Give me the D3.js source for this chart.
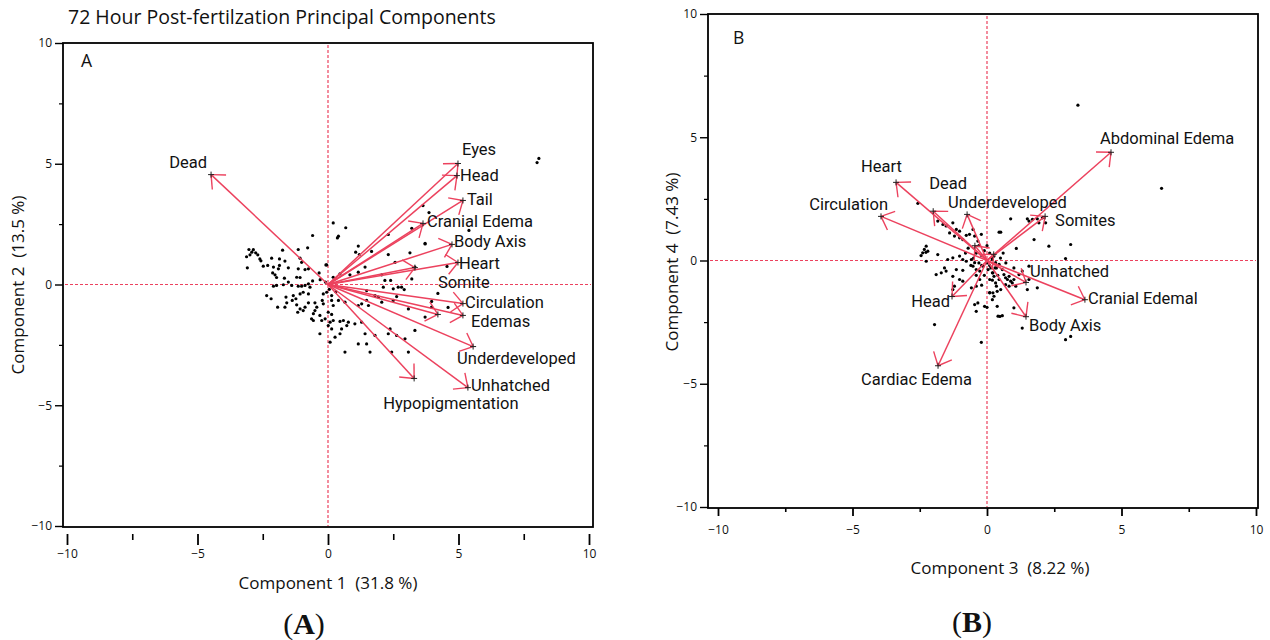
<!DOCTYPE html>
<html><head><meta charset="utf-8">
<script src="https://cdn.jsdelivr.net/npm/d3@7"></script>
<style>
body{margin:0;background:#fff}
text{font-family:"Open Sans","Noto Sans",sans-serif;fill:#111}
text.lbl{font-family:Roboto,"Open Sans",sans-serif}
</style>
</head><body>
<svg id="chart" width="1270" height="640"></svg>
<script>
// ---------- data ----------
const majorTicks = [-10, -5, 0, 5, 10];
const minorTicks = [-7.5, -2.5, 2.5, 7.5];

const titleA = "72 Hour Post-fertilzation Principal Components";
const xTitleA = "Component 1  (31.8 %)";
const yTitleA = "Component 2  (13.5 %)";
const xTitleB = "Component 3  (8.22 %)";
const yTitleB = "Component 4  (7.43 %)";

const loadNamesA = ["Dead","Eyes","Head","Tail","Cranial Edema","Body Axis","Heart","Somite","Circulation","Edemas","","Underdeveloped","Unhatched","Hypopigmentation"];
const loadXA = [-4.48, 4.98, 4.94, 5.17, 3.64, 4.75, 4.98, 3.33, 5.17, 5.17, 4.21, 5.56, 5.36, 3.30];
const loadYA = [ 4.55, 5.01, 4.51, 3.48, 2.53, 1.66, 0.91, 0.70, -0.79, -1.28, -1.24, -2.57, -4.27, -3.89];

const loadNamesB = ["Abdominal Edema","Heart","Dead","Underdeveloped","Circulation","Somites","Unhatched","Cranial Edemal","Body Axis","Head","Cardiac Edema","",""];
const loadXB = [4.61, -3.38, -2.00, -0.74, -3.94, 2.16, 1.45, 3.64, 1.45, -1.30, -1.82, -0.45, 0.25];
const loadYB = [4.39, 3.17, 2.00, 1.87, 1.79, 1.79, -0.89, -1.59, -2.28, -1.46, -4.27, 0.60, 0.25];

const scoresA = [
[-0.59,2.03],[-0.78,1.52],[-1.14,1.45],[-1.74,1.42],[-3.03,1.45],[-2.86,1.44],[-2.92,1.34],[-2.77,1.31],[-2.99,1.23],[-3.12,1.15],
[-2.69,1.23],[-2.61,1.06],[-2.57,0.98],[-2.16,1.09],[-1.86,1.06],[-1.65,0.97],[-2.31,0.79],[-2.48,0.76],[-3.09,0.69],[-2.09,0.72],
[-1.86,0.79],[-1.90,0.65],[-1.52,0.69],[-1.07,1.09],[-1.01,0.92],[-1.14,0.65],[-0.88,0.62],[-0.75,0.65],[-0.05,0.81],[-0.34,0.48],
[-2.12,0.48],[-2.03,0.40],[-1.97,0.29],[-1.67,0.26],[-1.20,0.30],[-1.07,0.29],[-0.59,0.15],[-0.75,0.03],[-1.52,0.10],[-1.39,-0.04],
[-1.71,-0.01],[-1.97,-0.04],[-2.09,-0.07],[-1.14,-0.07],[-1.01,-0.07],[-0.88,-0.04],[-0.69,-0.11],[-2.35,-0.46],[-2.18,-0.59],[-1.61,-0.52],
[-1.33,-0.46],[-1.07,-0.39],[-0.95,-0.32],[-0.75,-0.39],[-1.23,-0.59],[-1.37,-0.66],[-1.58,-0.76],[-1.65,-0.94],[-1.93,-0.94],[-1.20,-0.84],
[-1.07,-1.01],[-0.95,-1.08],[-0.88,-0.94],[-0.75,-0.76],[-0.50,-0.76],[-0.22,-0.66],[-0.18,-0.80],[-0.43,-0.94],[-0.50,-1.08],[-0.56,-1.21],
[-1.16,-1.15],[-0.63,-1.42],[-0.56,-1.49],[-0.31,-1.28],[-0.24,-1.49],[-0.11,-1.42],[0.01,-1.15],[-0.18,-0.39],[-0.05,-0.32],[0.14,-0.46],
[-0.31,-2.04],[0.14,-1.84],[0.08,-2.39],[0.08,-1.56],
[0.20,2.55],[0.68,2.35],[0.40,2.00],[0.36,1.93],[-0.08,0.81],[1.16,1.59],[1.06,1.34],[1.20,1.24],[1.67,1.37],[2.31,1.24],
[3.14,1.31],[3.72,1.68],[2.31,2.07],[3.21,2.33],[1.42,0.72],[1.16,0.51],[0.84,0.40],[0.46,0.44],[2.06,0.40],[2.18,0.17],
[2.40,0.17],[3.33,0.72],[2.57,0.92],[3.21,0.23],[2.82,-0.11],[2.50,-0.18],[2.69,-0.11],[2.92,-0.21],[2.12,-0.11],[1.48,-0.25],
[1.80,-0.46],[1.93,-0.52],[2.63,-0.50],[1.48,-0.66],[1.29,-0.80],[1.16,-0.87],[1.55,-0.87],[2.06,-0.73],[2.50,-0.66],[3.08,-1.01],
[3.97,-0.70],[3.97,-0.94],[0.65,-0.73],[0.40,-0.66],[0.14,-0.66],[0.20,-0.87],[0.14,-1.24],[0.20,-1.49],[0.46,-1.53],[0.59,-1.49],
[0.78,-1.56],[0.72,-1.70],[1.03,-1.63],[1.29,-1.56],[0.52,-1.84],[0.46,-2.04],[0.27,-2.18],[1.42,-2.04],[1.16,-2.46],[1.48,-2.46],
[1.80,-2.11],[2.38,-1.84],[2.31,-2.04],[2.63,-2.11],[2.95,-2.25],[3.33,-1.90],[3.08,-2.80],[2.44,-2.80],[1.61,-2.80],[0.65,-2.80],
[3.72,-1.35],[0.01,-1.70],
[8.08,5.22],[8.01,5.05],[3.64,3.27],[3.87,2.98],[5.40,2.24],[3.72,1.70],[4.56,0.75],[4.21,-0.37],[4.60,-0.95],
[0.05,-0.20],[-0.10,0.10],[0.30,-0.30],[-0.30,0.20],[0.20,0.30]
];

const scoresB = [
[-2.57,2.32],[-1.83,1.60],[-1.64,1.46],[-1.52,1.40],[-1.27,1.53],[-1.14,1.26],[-1.02,1.19],[-1.39,1.12],[-1.21,0.99],[-1.02,0.92],
[-0.90,0.85],[-0.77,1.02],[-0.65,1.06],[-0.52,1.26],[-0.46,0.99],[-0.21,1.06],[-0.34,0.79],[0.45,1.15],[-2.26,0.58],[-2.33,0.45],
[-2.20,0.38],[-2.39,0.31],[-2.26,-0.03],[-1.83,0.24],[-1.46,0.04],[-1.27,0.11],[-1.02,0.18],[-0.90,0.04],[-0.77,-0.03],[-0.58,0.04],
[-0.46,-0.09],[-0.52,-0.23],[-0.40,-0.37],[-0.27,-0.43],[-0.15,-0.23],[0.04,-0.37],[0.22,-0.50],[0.35,-0.30],[-1.58,-0.30],[-1.52,-0.43],
[-1.70,-0.50],[-1.89,-0.57],[-1.27,-0.64],[-1.14,-0.37],[-1.02,-0.77],[-0.90,-0.84],[-1.21,-1.04],[-1.27,-1.18],[-0.58,-1.11],[-0.40,-1.04],
[-0.27,-0.77],[0.10,-0.77],[0.22,-1.31],[0.35,-1.04],[-0.34,-1.72],[-0.46,-1.79],[-0.09,-1.86],[-0.40,-2.06],[0.10,-1.31],[0.41,-2.26],
[-1.95,-2.60],[-0.21,-3.32],
[0.88,1.69],[1.50,1.69],[1.56,1.60],[1.69,1.67],[1.87,1.69],[2.06,1.73],[2.18,1.53],[1.93,1.53],[0.51,1.15],[1.75,0.85],
[2.30,0.58],[3.11,0.65],[2.92,0.08],[1.09,0.49],[0.26,0.18],[0.20,0.04],[0.32,-0.09],[0.45,-0.16],[0.14,-0.30],[0.57,-0.37],
[0.63,-0.57],[0.69,-0.70],[0.76,-0.77],[0.82,-0.64],[0.88,-0.84],[0.94,-0.91],[1.00,-0.77],[1.07,-1.04],[0.82,-1.04],[0.69,-0.98],
[0.45,-0.77],[0.32,-0.91],[0.26,-0.64],[0.20,-0.50],[0.51,-1.18],[0.38,-1.25],[0.26,-1.45],[0.20,-1.59],[1.50,-1.18],[1.87,-1.11],
[1.56,-0.23],[1.00,-0.30],[1.19,-0.57],[1.31,-0.43],[1.56,-0.77],[1.00,-1.92],[0.57,-2.24],[1.31,-2.74],[3.11,-3.08],[2.92,-3.21],
[0.38,-1.86],
[3.38,6.30],[6.49,2.93],[0.48,-2.27],[0.00,-1.90],[-2.27,0.33],[-2.45,0.20],
[-0.40,0.30],[-0.20,0.20],[-0.10,0.40],[0.10,0.30],[0.20,0.10],[-0.30,-0.10],[-0.20,-0.20],[0.00,-0.10],[0.10,-0.20],[0.30,-0.30],
[-0.50,0.10],[-0.60,-0.20],[-0.40,-0.60],[-0.10,-0.60],[0.20,-0.80],[0.40,-0.60],[0.50,0.10],[-0.70,0.50],[-0.80,0.30],[-0.30,0.60],
[0.00,0.60],[0.60,0.30],[0.70,-0.10],[-0.90,-0.40],[-0.20,-1.00],[0.10,-1.30]
];

// ---------- layout (pixels) ----------
const labelLayoutA = [
  {dx:-4, dy:-7, anchor:"end"}, {dx:4, dy:-9}, {dx:3, dy:5}, {dx:4, dy:5}, {dx:4, dy:4},
  {dx:2, dy:3}, {dx:1, dy:6}, {dx:23, dy:20}, {dx:2, dy:4}, {dx:8, dy:12}, {dx:0, dy:0},
  {dx:-16, dy:17}, {dx:3, dy:3}, {dx:-31, dy:31}
];
const labelLayoutB = [
  {dx:-11, dy:-8}, {dx:-35, dy:-10}, {dx:-4, dy:-22}, {dx:-19, dy:-6}, {dx:7, dy:-6, anchor:"end"},
  {dx:10, dy:10}, {dx:4, dy:-5}, {dx:3, dy:4}, {dx:3, dy:14}, {dx:-2, dy:11, anchor:"end"},
  {dx:-77, dy:19}, {dx:0,dy:0}, {dx:0,dy:0}
];

const RED = "#ec425e";
const svg = d3.select("#chart");

function drawPanel(p) {
  const x = d3.scaleLinear().domain([-10, 10]).range(p.xr);
  const y = d3.scaleLinear().domain([-10, 10]).range(p.yr);
  const g = svg.append("g");

  // reference dashed lines
  g.append("line").attr("x1", x(0)).attr("x2", x(0)).attr("y1", p.frame[1] + 2).attr("y2", p.frame[3] - 1)
    .attr("stroke", RED).attr("stroke-width", 1.2).attr("stroke-dasharray", "3,2");
  g.append("line").attr("y1", y(0)).attr("y2", y(0)).attr("x1", p.frame[0] + 2).attr("x2", p.frame[2] - 2)
    .attr("stroke", RED).attr("stroke-width", 1.2).attr("stroke-dasharray", "3,2");

  // score points
  g.selectAll("circle.pt").data(p.scores).join("circle")
    .attr("cx", d => x(d[0])).attr("cy", d => y(d[1])).attr("r", 1.6).attr("fill", "#000");

  // loading arrows
  const ox = x(0), oy = y(0);
  p.names.forEach((nm, i) => {
    const tx = x(p.lx[i]), ty = y(p.ly[i]);
    g.append("line").attr("x1", ox).attr("y1", oy).attr("x2", tx).attr("y2", ty)
      .attr("stroke", RED).attr("stroke-width", 1.5);
    const back = Math.atan2(oy - ty, ox - tx);
    const L = 15, a = 42 * Math.PI / 180;
    [back - a, back + a].forEach(t => {
      g.append("line").attr("x1", tx).attr("y1", ty)
        .attr("x2", tx + L * Math.cos(t)).attr("y2", ty + L * Math.sin(t))
        .attr("stroke", RED).attr("stroke-width", 1.4);
    });
    g.append("path").attr("d", `M${tx-3},${ty}H${tx+3}M${tx},${ty-3}V${ty+3}`)
      .attr("stroke", "#222").attr("stroke-width", 1);
    if (nm) {
      const lay = p.layout[i];
      g.append("text").attr("class", "lbl").attr("x", tx + lay.dx).attr("y", ty + lay.dy)
        .attr("text-anchor", lay.anchor || "start").attr("font-size", 16.5).text(nm);
    }
  });

  // frame
  g.append("rect").attr("x", p.frame[0]).attr("y", p.frame[1])
    .attr("width", p.frame[2] - p.frame[0]).attr("height", p.frame[3] - p.frame[1])
    .attr("fill", "none").attr("stroke", "#000").attr("stroke-width", 1.8);

  // y axis
  const ya = g.append("g").attr("transform", `translate(${p.frame[0]},0)`)
    .call(d3.axisLeft(y).tickValues(majorTicks).tickSize(8).tickPadding(3).tickFormat(d3.format("d")));
  ya.select(".domain").remove();
  ya.selectAll("text").attr("font-size", 12).style("font-family", '"Open Sans",sans-serif');
  ya.selectAll("line").attr("stroke-width", 1.4);
  const ym = g.append("g").attr("transform", `translate(${p.frame[0]},0)`)
    .call(d3.axisLeft(y).tickValues(minorTicks).tickSize(4).tickFormat(""));
  ym.select(".domain").remove();
  ym.selectAll("line").attr("stroke-width", 1.2);

  // x axis
  const xa = g.append("g").attr("transform", `translate(0,${p.xAxisY})`)
    .call(d3.axisBottom(x).tickValues(majorTicks).tickSize(p.xMajor).tickPadding(p.xPad).tickFormat(d3.format("d")));
  xa.select(".domain").remove();
  xa.selectAll("text").attr("font-size", 12).style("font-family", '"Open Sans",sans-serif');
  xa.selectAll("line").attr("stroke-width", 1.8);
  const xm = g.append("g").attr("transform", `translate(0,${p.xAxisY})`)
    .call(d3.axisBottom(x).tickValues(minorTicks).tickSize(p.xMinor).tickFormat(""));
  xm.select(".domain").remove();
  xm.selectAll("line").attr("stroke-width", 1.6);

  // axis titles
  g.append("text").attr("x", p.xTitle[0]).attr("y", p.xTitle[1]).attr("text-anchor", "middle")
    .attr("font-size", 17).style("white-space", "pre").text(p.xt);
  g.append("text").attr("transform", `translate(${p.yTitle[0]},${p.yTitle[1]}) rotate(-90)`)
    .attr("text-anchor", "middle").attr("font-size", 17).style("white-space", "pre").text(p.yt);

  // panel letter inside
  g.append("text").attr("x", p.letterPos[0]).attr("y", p.letterPos[1]).attr("font-size", 17.5).text(p.letter);
  // caption
  g.append("text").attr("x", p.capPos[0]).attr("y", p.capPos[1]).attr("text-anchor", "middle")
    .style("font-family", '"Liberation Serif","Times New Roman",serif').attr("font-size", 30)
    .html(`(<tspan font-weight="bold">${p.letter}</tspan>)`);
}

drawPanel({
  xr: [67, 589], yr: [526, 43], frame: [63, 43, 593, 527],
  scores: scoresA, names: loadNamesA, lx: loadXA, ly: loadYA, layout: labelLayoutA,
  xAxisY: 534, xMajor: 11, xMinor: 6, xPad: 4,
  xTitle: [328, 589], yTitle: [24, 285], xt: xTitleA, yt: yTitleA,
  letter: "A", letterPos: [81, 67], capPos: [304, 634]
});
drawPanel({
  xr: [718, 1256], yr: [507, 14], frame: [708, 14, 1258, 508],
  scores: scoresB, names: loadNamesB, lx: loadXB, ly: loadYB, layout: labelLayoutB,
  xAxisY: 508, xMajor: 8, xMinor: 4, xPad: 9,
  xTitle: [1000, 574], yTitle: [678, 262], xt: xTitleB, yt: yTitleB,
  letter: "B", letterPos: [733, 44], capPos: [972, 632]
});

svg.append("text").attr("x", 68).attr("y", 24).attr("font-size", 19.5).text(titleA);
</script>
</body></html>
